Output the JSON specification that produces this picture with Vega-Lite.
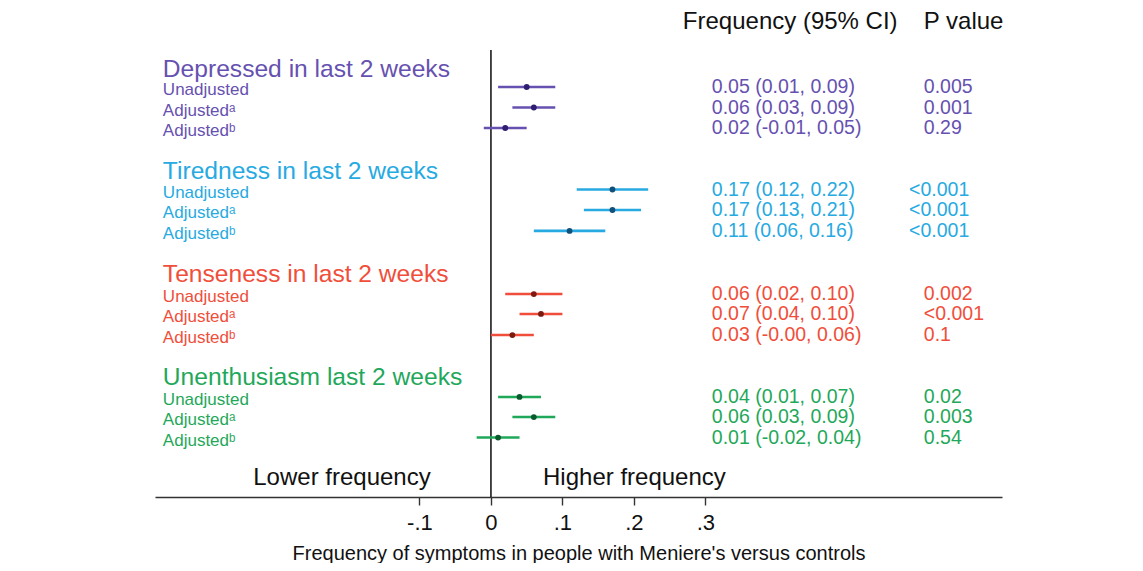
{
  "$schema": "https://vega.github.io/schema/vega-lite/v6.json",
  "width": 847,
  "height": 492,
  "padding": {"left": 155, "top": 5, "right": 0, "bottom": 0},
  "background": "white",
  "config": {
    "view": {"stroke": null},
    "font": "Liberation Sans",
    "text": {"font": "Liberation Sans"}
  },
  "datasets": {
    "rows": [
      {"group": "Depressed", "kind": "title", "label": "Depressed in last 2 weeks", "row": 0.17},
      {"group": "Depressed", "kind": "item", "label": "Unadjusted", "row": 1, "est": 0.05, "lo": 0.01, "hi": 0.09, "ci": "0.05 (0.01, 0.09)", "p": "0.005"},
      {"group": "Depressed", "kind": "item", "label": "Adjustedᵃ", "row": 2, "est": 0.06, "lo": 0.03, "hi": 0.09, "ci": "0.06 (0.03, 0.09)", "p": "0.001"},
      {"group": "Depressed", "kind": "item", "label": "Adjustedᵇ", "row": 3, "est": 0.02, "lo": -0.01, "hi": 0.05, "ci": "0.02 (-0.01, 0.05)", "p": "0.29"},
      {"group": "Tiredness", "kind": "title", "label": "Tiredness in last 2 weeks", "row": 5.17},
      {"group": "Tiredness", "kind": "item", "label": "Unadjusted", "row": 6, "est": 0.17, "lo": 0.12, "hi": 0.22, "ci": "0.17 (0.12, 0.22)", "p": "<0.001"},
      {"group": "Tiredness", "kind": "item", "label": "Adjustedᵃ", "row": 7, "est": 0.17, "lo": 0.13, "hi": 0.21, "ci": "0.17 (0.13, 0.21)", "p": "<0.001"},
      {"group": "Tiredness", "kind": "item", "label": "Adjustedᵇ", "row": 8.02, "est": 0.11, "lo": 0.06, "hi": 0.16, "ci": "0.11 (0.06, 0.16)", "p": "<0.001"},
      {"group": "Tenseness", "kind": "title", "label": "Tenseness in last 2 weeks", "row": 10.17},
      {"group": "Tenseness", "kind": "item", "label": "Unadjusted", "row": 11.1, "est": 0.06, "lo": 0.02, "hi": 0.10, "ci": "0.06 (0.02, 0.10)", "p": "0.002"},
      {"group": "Tenseness", "kind": "item", "label": "Adjustedᵃ", "row": 12.07, "est": 0.07, "lo": 0.04, "hi": 0.10, "ci": "0.07 (0.04, 0.10)", "p": "<0.001"},
      {"group": "Tenseness", "kind": "item", "label": "Adjustedᵇ", "row": 13.1, "est": 0.03, "lo": -0.00, "hi": 0.06, "ci": "0.03 (-0.00, 0.06)", "p": "0.1"},
      {"group": "Unenthusiasm", "kind": "title", "label": "Unenthusiasm last 2 weeks", "row": 15.2},
      {"group": "Unenthusiasm", "kind": "item", "label": "Unadjusted", "row": 16.12, "est": 0.04, "lo": 0.01, "hi": 0.07, "ci": "0.04 (0.01, 0.07)", "p": "0.02"},
      {"group": "Unenthusiasm", "kind": "item", "label": "Adjustedᵃ", "row": 17.1, "est": 0.06, "lo": 0.03, "hi": 0.09, "ci": "0.06 (0.03, 0.09)", "p": "0.003"},
      {"group": "Unenthusiasm", "kind": "item", "label": "Adjustedᵇ", "row": 18.1, "est": 0.01, "lo": -0.02, "hi": 0.04, "ci": "0.01 (-0.02, 0.04)", "p": "0.54"}
    ],
    "headers": [
      {"text": "Frequency (95% CI)", "x": 0.2685, "row": -2.15},
      {"text": "P value", "x": 0.6056, "row": -2.15}
    ],
    "sides": [
      {"text": "Lower frequency", "x": -0.2084, "row": 20.05},
      {"text": "Higher frequency", "x": 0.2007, "row": 20.05}
    ],
    "zero": [{"x": 0, "top": -0.8, "bottom": 21}]
  },
  "layer": [
    {
      "data": {"name": "zero"},
      "mark": {"type": "rule", "color": "#1a1a1a", "strokeWidth": 1.6},
      "encoding": {
        "x": {"field": "x", "type": "quantitative"},
        "y": {"field": "top", "type": "quantitative"},
        "y2": {"field": "bottom"}
      }
    },
    {
      "data": {"name": "rows"},
      "transform": [{"filter": "datum.kind === 'item'"}],
      "mark": {"type": "rule", "strokeWidth": 2.6},
      "encoding": {
        "x": {"field": "lo", "type": "quantitative"},
        "x2": {"field": "hi"},
        "y": {"field": "row", "type": "quantitative"},
        "color": {"field": "group", "type": "nominal", "legend": null}
      }
    },
    {
      "data": {"name": "rows"},
      "transform": [{"filter": "datum.kind === 'item'"}],
      "mark": {"type": "point", "filled": true, "shape": "circle", "size": 34, "opacity": 1},
      "encoding": {
        "x": {"field": "est", "type": "quantitative"},
        "y": {"field": "row", "type": "quantitative"},
        "fill": {"field": "group", "type": "nominal", "legend": null,
          "scale": {"domain": ["Depressed", "Tiredness", "Tenseness", "Unenthusiasm"], "range": ["#2e1f70", "#12507c", "#7d1a10", "#0b5a2e"]}}
      }
    },
    {
      "data": {"name": "rows"},
      "transform": [{"filter": "datum.kind === 'title'"}],
      "mark": {"type": "text", "align": "left", "baseline": "middle", "fontSize": 24.6},
      "encoding": {
        "x": {"datum": -0.459, "type": "quantitative"},
        "y": {"field": "row", "type": "quantitative"},
        "text": {"field": "label"},
        "color": {"field": "group", "type": "nominal", "legend": null}
      }
    },
    {
      "data": {"name": "rows"},
      "transform": [{"filter": "datum.kind === 'item'"}],
      "mark": {"type": "text", "align": "left", "baseline": "middle", "fontSize": 17, "dy": 3},
      "encoding": {
        "x": {"datum": -0.459, "type": "quantitative"},
        "y": {"field": "row", "type": "quantitative"},
        "text": {"field": "label"},
        "color": {"field": "group", "type": "nominal", "legend": null}
      }
    },
    {
      "data": {"name": "rows"},
      "transform": [{"filter": "datum.kind === 'item'"}],
      "mark": {"type": "text", "align": "left", "baseline": "middle", "fontSize": 19.5},
      "encoding": {
        "x": {"datum": 0.309, "type": "quantitative"},
        "y": {"field": "row", "type": "quantitative"},
        "text": {"field": "ci"},
        "color": {"field": "group", "type": "nominal", "legend": null}
      }
    },
    {
      "data": {"name": "rows"},
      "transform": [{"filter": "datum.kind === 'item' && datum.group !== 'Tiredness'"}],
      "mark": {"type": "text", "align": "left", "baseline": "middle", "fontSize": 19.5},
      "encoding": {
        "x": {"datum": 0.6056, "type": "quantitative"},
        "y": {"field": "row", "type": "quantitative"},
        "text": {"field": "p"},
        "color": {"field": "group", "type": "nominal", "legend": null}
      }
    },
    {
      "data": {"name": "rows"},
      "transform": [{"filter": "datum.kind === 'item' && datum.group === 'Tiredness'"}],
      "mark": {"type": "text", "align": "left", "baseline": "middle", "fontSize": 19.5},
      "encoding": {
        "x": {"datum": 0.585, "type": "quantitative"},
        "y": {"field": "row", "type": "quantitative"},
        "text": {"field": "p"},
        "color": {"field": "group", "type": "nominal", "legend": null}
      }
    },
    {
      "data": {"name": "headers"},
      "mark": {"type": "text", "align": "left", "baseline": "middle", "fontSize": 24, "color": "#111111"},
      "encoding": {
        "x": {"field": "x", "type": "quantitative"},
        "y": {"field": "row", "type": "quantitative"},
        "text": {"field": "text"}
      }
    },
    {
      "data": {"name": "sides"},
      "mark": {"type": "text", "align": "center", "baseline": "middle", "fontSize": 24, "color": "#111111"},
      "encoding": {
        "x": {"field": "x", "type": "quantitative"},
        "y": {"field": "row", "type": "quantitative"},
        "text": {"field": "text"}
      }
    }
  ],
  "resolve": {"scale": {"color": "shared"}},
  "encoding": {
    "x": {
      "type": "quantitative",
      "scale": {"domain": [-0.47, 0.715], "nice": false, "zero": false},
      "axis": {
        "values": [-0.1, 0, 0.1, 0.2, 0.3],
        "labelExpr": "datum.value == 0 ? '0' : (datum.value < 0 ? '-' : '') + '.' + format(abs(datum.value) * 10, '.0f')",
        "title": "Frequency of symptoms in people with Meniere's versus controls",
        "grid": false,
        "domainColor": "#333333",
        "domainWidth": 1.6,
        "tickColor": "#333333",
        "tickWidth": 1.4,
        "tickSize": 8,
        "labelFontSize": 22,
        "labelColor": "#111111",
        "labelPadding": 7,
        "labelFont": "Liberation Sans",
        "titleFont": "Liberation Sans",
        "titleFontSize": 20,
        "titleFontWeight": "normal",
        "titleColor": "#111111",
        "titlePadding": 10
      }
    },
    "y": {
      "type": "quantitative",
      "scale": {"domain": [-3, 21], "reverse": true, "nice": false, "zero": false},
      "axis": null
    },
    "color": {
      "type": "nominal",
      "scale": {"domain": ["Depressed", "Tiredness", "Tenseness", "Unenthusiasm"], "range": ["#6651b0", "#27aae1", "#f04e3a", "#1fa85a"]}
    }
  }
}
